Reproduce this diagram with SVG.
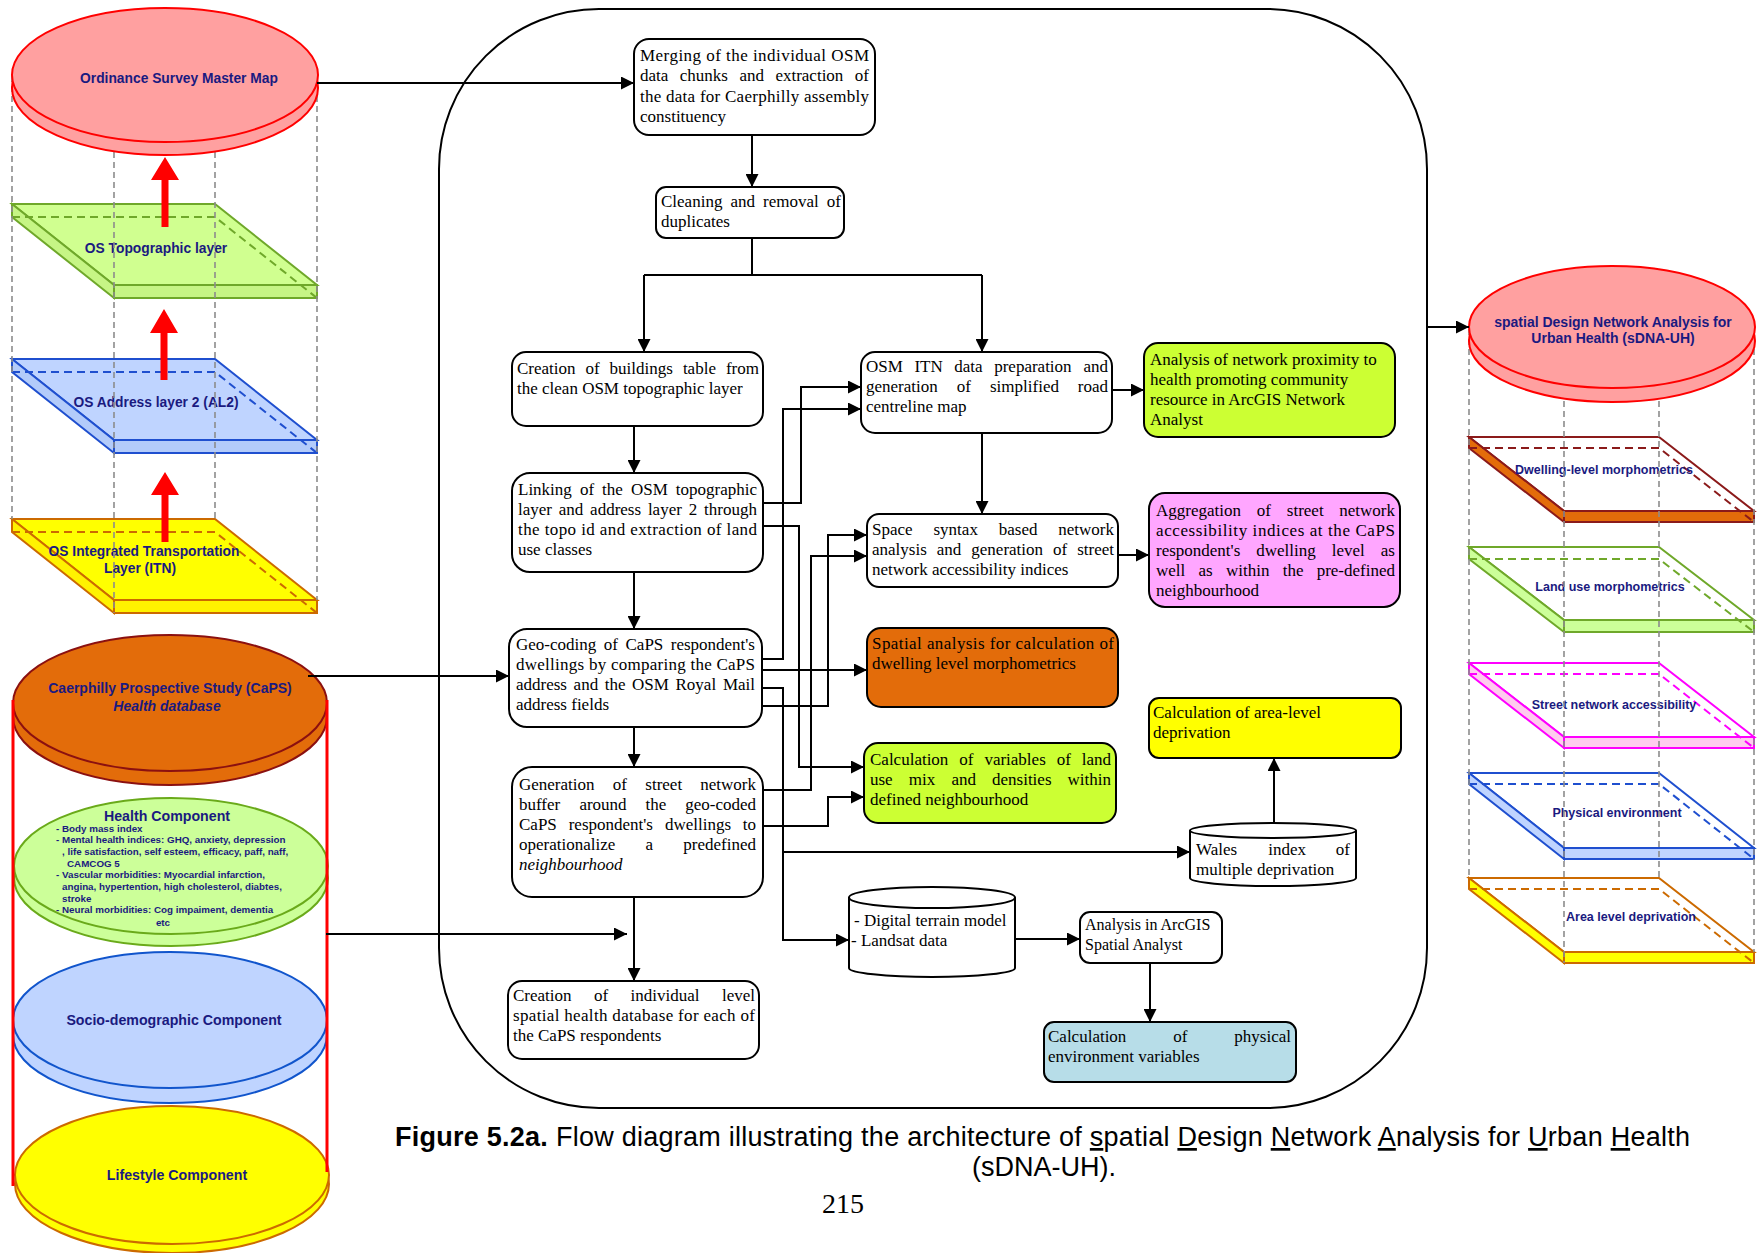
<svg xmlns="http://www.w3.org/2000/svg" width="1760" height="1253" viewBox="0 0 1760 1253">
<defs>
<marker id="ah" markerWidth="13" markerHeight="13" refX="13" refY="6.5" orient="auto" markerUnits="userSpaceOnUse"><path d="M0,0 L13,6.5 L0,13 z" fill="#000"/></marker>
<style>
.box{fill:#fff;stroke:#000;stroke-width:2}
.t{font-family:"Liberation Serif","Times New Roman",serif;font-size:17px;fill:#000}
.lbl{font-family:"Liberation Sans",Arial,sans-serif;font-weight:bold;fill:#1A1A80;font-size:13.8px}
.sm{font-family:"Liberation Sans",Arial,sans-serif;font-weight:bold;fill:#1A1A80;font-size:9.8px}
.rl{font-family:"Liberation Sans",Arial,sans-serif;font-weight:bold;fill:#1A1A80;font-size:12.5px}
.conn{fill:none;stroke:#000;stroke-width:2}
.arr{marker-end:url(#ah)}
.gd{stroke:#8c8c8c;stroke-width:1.6;stroke-dasharray:6 4;fill:none}
.cap{font-family:"Liberation Sans",Arial,sans-serif;font-size:27px;fill:#000}
</style>
</defs>
<rect width="1760" height="1253" fill="#fff"/>

<!-- LEFT STACK -->
<g id="n-topo">
<polygon points="12,204 215,204 317,285 114,285" fill="#D0FF90" stroke="#6FA82A" stroke-width="2"/>
<polygon points="12,204 114,285 114,298 12,217" fill="#C6F585" stroke="#6FA82A" stroke-width="2"/>
<polygon points="114,285 317,285 317,298 114,298" fill="#C6F585" stroke="#6FA82A" stroke-width="2"/>
<polyline points="12,217 215,217 317,298" fill="none" stroke="#6FA82A" stroke-width="2" stroke-dasharray="8 5"/>
<text class="lbl" x="156" y="253" text-anchor="middle">OS Topographic layer</text>
</g>
<g id="n-al2">
<polygon points="12,359 215,359 317,440 114,440" fill="#BFD4FF" stroke="#1F4FCF" stroke-width="2"/>
<polygon points="12,359 114,440 114,453 12,372" fill="#B3CBFA" stroke="#1F4FCF" stroke-width="2"/>
<polygon points="114,440 317,440 317,453 114,453" fill="#B3CBFA" stroke="#1F4FCF" stroke-width="2"/>
<polyline points="12,372 215,372 317,453" fill="none" stroke="#1F4FCF" stroke-width="2" stroke-dasharray="8 5"/>
<text class="lbl" x="156" y="407" text-anchor="middle">OS Address layer 2 (AL2)</text>
</g>
<g id="n-itn">
<polygon points="12,519 215,519 317,600 114,600" fill="#FFFF00" stroke="#CC6A00" stroke-width="2"/>
<polygon points="12,519 114,600 114,613 12,532" fill="#FFF200" stroke="#CC6A00" stroke-width="2"/>
<polygon points="114,600 317,600 317,613 114,613" fill="#FFF200" stroke="#CC6A00" stroke-width="2"/>
<polyline points="12,532 215,532 317,613" fill="none" stroke="#CC6A00" stroke-width="2" stroke-dasharray="8 5"/>
<text class="lbl" x="144" y="556" text-anchor="middle">OS Integrated Transportation</text>
<text class="lbl" x="140" y="573" text-anchor="middle">Layer (ITN)</text>
</g>
<g id="left-guides">
<line class="gd" x1="12" y1="76" x2="12" y2="519"/>
<line class="gd" x1="114" y1="152" x2="114" y2="613"/>
<line class="gd" x1="215" y1="152" x2="215" y2="519"/>
<line class="gd" x1="317" y1="76" x2="317" y2="600"/>
</g>
<g id="n-osmm">
<ellipse cx="165" cy="88" rx="153" ry="67" fill="#FFA0A0" stroke="#FF0000" stroke-width="2"/>
<ellipse cx="165" cy="75" rx="153" ry="67" fill="#FFA0A0" stroke="#FF0000" stroke-width="2"/>
<text class="lbl" x="179" y="83" text-anchor="middle">Ordinance Survey Master Map</text>
</g>
<g id="red-arrows" fill="#FF0000">
<polygon points="165,157 179,180 168.5,180 168.5,227 161.5,227 161.5,180 151,180"/>
<polygon points="164,309 178,333 167.5,333 167.5,380 160.5,380 160.5,333 150,333"/>
<polygon points="165,472 179,495 168.5,495 168.5,542 161.5,542 161.5,495 151,495"/>
</g>

<g id="n-caps">
<ellipse cx="170" cy="717" rx="157" ry="68" fill="#E36C0A" stroke="#8B1010" stroke-width="2"/>
<ellipse cx="170" cy="703" rx="157" ry="68" fill="#E36C0A" stroke="#8B1010" stroke-width="2"/>
<text class="lbl" x="170" y="693" text-anchor="middle" style="font-size:14px">Caerphilly Prospective Study (CaPS)</text>
<text class="lbl" x="167" y="711" text-anchor="middle" style="font-size:14px;font-style:italic">Health database</text>
</g>
<g id="n-health">
<ellipse cx="171" cy="878" rx="157" ry="68" fill="#CCFF99" stroke="#6AAA1A" stroke-width="2"/>
<ellipse cx="171" cy="866" rx="157" ry="68" fill="#CCFF99" stroke="#6AAA1A" stroke-width="2"/>
<text class="lbl" x="167" y="821" text-anchor="middle" style="font-size:14.2px">Health Component</text>
<text class="sm" x="56" y="831.5">- Body mass index</text>
<text class="sm" x="56" y="843.3">- Mental health indices: GHQ, anxiety, depression</text>
<text class="sm" x="62" y="855">, life satisfaction, self esteem, efficacy, paff, naff,</text>
<text class="sm" x="67" y="866.7">CAMCOG 5</text>
<text class="sm" x="56" y="878.3">- Vascular morbidities: Myocardial infarction,</text>
<text class="sm" x="62" y="890">angina, hypertention, high cholesterol, diabtes,</text>
<text class="sm" x="62" y="901.7">stroke</text>
<text class="sm" x="56" y="913.3">- Neural morbidities: Cog impaiment, dementia</text>
<text class="sm" x="163" y="925.6" text-anchor="middle">etc</text>
</g>
<g id="n-socio">
<ellipse cx="170" cy="1035" rx="157" ry="68" fill="#BFD4FF" stroke="#1155CC" stroke-width="2"/>
<ellipse cx="170" cy="1020" rx="157" ry="68" fill="#BFD4FF" stroke="#1155CC" stroke-width="2"/>
<text class="lbl" x="174" y="1025" text-anchor="middle" style="font-size:14.2px">Socio-demographic Component</text>
</g>
<g id="n-lifestyle">
<ellipse cx="172" cy="1184" rx="157" ry="69" fill="#FFFF00" stroke="#CC6A00" stroke-width="2"/>
<ellipse cx="172" cy="1175" rx="157" ry="69" fill="#FFFF00" stroke="#CC6A00" stroke-width="2"/>
<text class="lbl" x="177" y="1180" text-anchor="middle" style="font-size:14.2px">Lifestyle Component</text>
</g>
<g id="caps-frame" stroke="#FF0000" stroke-width="3">
<line x1="13" y1="700" x2="13" y2="1186"/>
<line x1="327" y1="700" x2="327" y2="1172"/>
</g>

<!-- CENTRAL FRAME -->
<g id="n-frame">
<rect x="439" y="9" width="988" height="1099" rx="160" ry="160" fill="none" stroke="#000" stroke-width="2"/>
</g>

<g id="n-merge">
<rect class="box" x="634" y="39" width="241" height="96" rx="15"/>
<text class="t" x="640" y="61" textLength="229" lengthAdjust="spacing">Merging of the individual OSM</text>
<text class="t" y="81.3"><tspan x="640">data</tspan><tspan x="679.8">chunks</tspan><tspan x="739.4">and</tspan><tspan x="775.4">extraction</tspan><tspan x="869" text-anchor="end">of</tspan></text>
<text class="t" x="640" y="101.6" textLength="229" lengthAdjust="spacing">the data for Caerphilly assembly</text>
<text class="t" x="640" y="121.9">constituency</text>
</g>
<g id="n-clean">
<rect class="box" x="656" y="187" width="188" height="51" rx="10"/>
<text class="t" y="207"><tspan x="661">Cleaning</tspan><tspan x="730.5">and</tspan><tspan x="763.1">removal</tspan><tspan x="841" text-anchor="end">of</tspan></text>
<text class="t" x="661" y="227">duplicates</text>
</g>
<g id="n-bldg">
<rect class="box" x="512" y="352" width="251" height="74" rx="14"/>
<text class="t" y="373.5"><tspan x="517">Creation</tspan><tspan x="585.5">of</tspan><tspan x="609.6">buildings</tspan><tspan x="682.9">table</tspan><tspan x="759" text-anchor="end">from</tspan></text>
<text class="t" x="517" y="393.7">the clean OSM topographic layer</text>
</g>
<g id="n-link">
<rect class="box" x="512" y="473" width="251" height="99" rx="18"/>
<text class="t" y="495"><tspan x="518">Linking</tspan><tspan x="579.9">of</tspan><tspan x="602.1">the</tspan><tspan x="631">OSM</tspan><tspan x="757" text-anchor="end">topographic</tspan></text>
<text class="t" y="515"><tspan x="518">layer</tspan><tspan x="558.8">and</tspan><tspan x="590.1">address</tspan><tspan x="647.9">layer</tspan><tspan x="688.7">2</tspan><tspan x="757" text-anchor="end">through</tspan></text>
<text class="t" x="518" y="535" textLength="239" lengthAdjust="spacing">the topo id and extraction of land</text>
<text class="t" x="518" y="555">use classes</text>
</g>
<g id="n-geo">
<rect class="box" x="509" y="629" width="253" height="98" rx="18"/>
<text class="t" y="650"><tspan x="516">Geo-coding</tspan><tspan x="603.8">of</tspan><tspan x="625.5">CaPS</tspan><tspan x="755" text-anchor="end">respondent's</tspan></text>
<text class="t" x="516" y="670" textLength="239" lengthAdjust="spacing">dwellings by comparing the CaPS</text>
<text class="t" y="690"><tspan x="516">address</tspan><tspan x="573.6">and</tspan><tspan x="604.7">the</tspan><tspan x="632.1">OSM</tspan><tspan x="675.5">Royal</tspan><tspan x="755" text-anchor="end">Mail</tspan></text>
<text class="t" x="516" y="710">address fields</text>
</g>
<g id="n-gen">
<rect class="box" x="512" y="767" width="251" height="130" rx="20"/>
<text class="t" y="790"><tspan x="519">Generation</tspan><tspan x="612.8">of</tspan><tspan x="645.3">street</tspan><tspan x="756" text-anchor="end">network</tspan></text>
<text class="t" y="810"><tspan x="519">buffer</tspan><tspan x="579.4">around</tspan><tspan x="645.5">the</tspan><tspan x="756" text-anchor="end">geo-coded</tspan></text>
<text class="t" y="830"><tspan x="519">CaPS</tspan><tspan x="568.7">respondent's</tspan><tspan x="664.9">dwellings</tspan><tspan x="756" text-anchor="end">to</tspan></text>
<text class="t" y="850"><tspan x="519">operationalize</tspan><tspan x="645.5">a</tspan><tspan x="756" text-anchor="end">predefined</tspan></text>
<text class="t" x="519" y="870" font-style="italic">neighbourhood</text>
</g>
<g id="n-indiv">
<rect class="box" x="508" y="981" width="251" height="78" rx="14"/>
<text class="t" y="1001"><tspan x="513">Creation</tspan><tspan x="593.9">of</tspan><tspan x="630.5">individual</tspan><tspan x="755" text-anchor="end">level</tspan></text>
<text class="t" x="513" y="1021" textLength="242" lengthAdjust="spacing">spatial health database for each of</text>
<text class="t" x="513" y="1041">the CaPS respondents</text>
</g>
<g id="n-itnprep">
<rect class="box" x="861" y="352" width="251" height="81" rx="14"/>
<text class="t" y="372"><tspan x="866">OSM</tspan><tspan x="914.4">ITN</tspan><tspan x="954.3">data</tspan><tspan x="994.2">preparation</tspan><tspan x="1108" text-anchor="end">and</tspan></text>
<text class="t" y="392"><tspan x="866">generation</tspan><tspan x="956.8">of</tspan><tspan x="990">simplified</tspan><tspan x="1108" text-anchor="end">road</tspan></text>
<text class="t" x="866" y="412">centreline map</text>
</g>
<g id="n-proximity">
<rect class="box" x="1144" y="343" width="251" height="94" rx="14" style="fill:#CCFF33"/>
<text class="t" x="1150" y="365">Analysis of network proximity to</text>
<text class="t" x="1150" y="385">health promoting community</text>
<text class="t" x="1150" y="405">resource in ArcGIS Network</text>
<text class="t" x="1150" y="425">Analyst</text>
</g>
<g id="n-syntax">
<rect class="box" x="867" y="514" width="251" height="73" rx="12"/>
<text class="t" y="535"><tspan x="872">Space</tspan><tspan x="933.5">syntax</tspan><tspan x="998.8">based</tspan><tspan x="1114" text-anchor="end">network</tspan></text>
<text class="t" y="555"><tspan x="872">analysis</tspan><tspan x="936.8">and</tspan><tspan x="971.3">generation</tspan><tspan x="1053.1">of</tspan><tspan x="1114" text-anchor="end">street</tspan></text>
<text class="t" x="872" y="575">network accessibility indices</text>
</g>
<g id="n-aggreg">
<rect class="box" x="1149" y="493" width="251" height="114" rx="16" style="fill:#FFA6FF"/>
<text class="t" y="516"><tspan x="1156">Aggregation</tspan><tspan x="1256.8">of</tspan><tspan x="1286.8">street</tspan><tspan x="1395" text-anchor="end">network</tspan></text>
<text class="t" x="1156" y="536" textLength="239" lengthAdjust="spacing">accessibility indices at the CaPS</text>
<text class="t" y="556"><tspan x="1156">respondent's</tspan><tspan x="1256.3">dwelling</tspan><tspan x="1331.8">level</tspan><tspan x="1395" text-anchor="end">as</tspan></text>
<text class="t" y="576"><tspan x="1156">well</tspan><tspan x="1198.5">as</tspan><tspan x="1226">within</tspan><tspan x="1282.7">the</tspan><tspan x="1395" text-anchor="end">pre-defined</tspan></text>
<text class="t" x="1156" y="596">neighbourhood</text>
</g>
<g id="n-dwell">
<rect class="box" x="867" y="628" width="251" height="79" rx="14" style="fill:#E36C0A"/>
<text class="t" x="872" y="649" textLength="242" lengthAdjust="spacing">Spatial analysis for calculation of</text>
<text class="t" x="872" y="669">dwelling level morphometrics</text>
</g>
<g id="n-landuse">
<rect class="box" x="864" y="743" width="252" height="80" rx="14" style="fill:#CCFF33"/>
<text class="t" y="765"><tspan x="870">Calculation</tspan><tspan x="959.3">of</tspan><tspan x="984.4">variables</tspan><tspan x="1056.7">of</tspan><tspan x="1111" text-anchor="end">land</tspan></text>
<text class="t" y="785"><tspan x="870">use</tspan><tspan x="908.8">mix</tspan><tspan x="951.4">and</tspan><tspan x="992">densities</tspan><tspan x="1111" text-anchor="end">within</tspan></text>
<text class="t" x="870" y="805">defined neighbourhood</text>
</g>
<g id="n-deprivation">
<rect class="box" x="1149" y="698" width="252" height="60" rx="10" style="fill:#FFFF00"/>
<text class="t" x="1153" y="718">Calculation of area-level</text>
<text class="t" x="1153" y="738">deprivation</text>
</g>
<g id="n-wimd">
<path class="box" d="M1190,830.5 V878 A83,8 0 0 0 1356,878 V830.5 A83,7.5 0 0 0 1190,830.5 Z"/>
<path d="M1190,830.5 A83,7.5 0 0 0 1356,830.5" fill="none" stroke="#000" stroke-width="2"/>
<text class="t" y="855"><tspan x="1196">Wales</tspan><tspan x="1268.3">index</tspan><tspan x="1350" text-anchor="end">of</tspan></text>
<text class="t" x="1196" y="875">multiple deprivation</text>
</g>
<g id="n-dtm">
<path class="box" d="M849,897.5 V968 A83,9 0 0 0 1015,968 V897.5 A83,10.5 0 0 0 849,897.5 Z"/>
<path d="M849,897.5 A83,10.5 0 0 0 1015,897.5" fill="none" stroke="#000" stroke-width="2"/>
<text class="t" x="854" y="926">- Digital terrain model</text>
<text class="t" x="851" y="946">- Landsat data</text>
</g>
<g id="n-arcgis">
<rect class="box" x="1080" y="912" width="142" height="51" rx="10"/>
<text class="t" x="1085" y="930" style="font-size:16px">Analysis in ArcGIS</text>
<text class="t" x="1085" y="950" style="font-size:16px">Spatial Analyst</text>
</g>
<g id="n-physical">
<rect class="box" x="1044" y="1022" width="252" height="60" rx="10" style="fill:#B7DDE8"/>
<text class="t" y="1042"><tspan x="1048">Calculation</tspan><tspan x="1173.3">of</tspan><tspan x="1291" text-anchor="end">physical</tspan></text>
<text class="t" x="1048" y="1062">environment variables</text>
</g>

<!-- RIGHT STACK -->
<g id="n-dwelling-layer">
<polygon points="1469,437 1659,437 1754,511 1564,511" fill="#fff" stroke="#8B1A1A" stroke-width="2"/>
<polygon points="1469,437 1564,511 1564,522 1469,448" fill="#E36C0A" stroke="#8B1A1A" stroke-width="2"/>
<polygon points="1564,511 1754,511 1754,522 1564,522" fill="#E36C0A" stroke="#8B1A1A" stroke-width="2"/>
<polyline points="1469,448 1659,448 1754,522" fill="none" stroke="#8B1A1A" stroke-width="2" stroke-dasharray="8 5"/>
<text class="rl" x="1604" y="474" text-anchor="middle">Dwelling-level morphometrics</text>
</g>
<g id="n-landuse-layer">
<polygon points="1469,547 1659,547 1754,620 1564,620" fill="#fff" stroke="#6FA82A" stroke-width="2"/>
<polygon points="1469,547 1564,620 1564,632 1469,559" fill="#CCFF99" stroke="#6FA82A" stroke-width="2"/>
<polygon points="1564,620 1754,620 1754,632 1564,632" fill="#CCFF99" stroke="#6FA82A" stroke-width="2"/>
<polyline points="1469,559 1659,559 1754,632" fill="none" stroke="#6FA82A" stroke-width="2" stroke-dasharray="8 5"/>
<text class="rl" x="1610" y="591" text-anchor="middle">Land use morphometrics</text>
</g>
<g id="n-street-layer">
<polygon points="1469,663 1659,663 1754,737 1564,737" fill="#fff" stroke="#FF00FF" stroke-width="2"/>
<polygon points="1469,663 1564,737 1564,748 1469,674" fill="#FFCCEE" stroke="#FF00FF" stroke-width="2"/>
<polygon points="1564,737 1754,737 1754,748 1564,748" fill="#FFCCEE" stroke="#FF00FF" stroke-width="2"/>
<polyline points="1469,674 1659,674 1754,748" fill="none" stroke="#FF00FF" stroke-width="2" stroke-dasharray="8 5"/>
<text class="rl" x="1614" y="709" text-anchor="middle">Street network accessibility</text>
</g>
<g id="n-physical-layer">
<polygon points="1469,773 1659,773 1754,848 1564,848" fill="#fff" stroke="#1F4FCF" stroke-width="2"/>
<polygon points="1469,773 1564,848 1564,859 1469,784" fill="#BFD4FF" stroke="#1F4FCF" stroke-width="2"/>
<polygon points="1564,848 1754,848 1754,859 1564,859" fill="#BFD4FF" stroke="#1F4FCF" stroke-width="2"/>
<polyline points="1469,784 1659,784 1754,859" fill="none" stroke="#1F4FCF" stroke-width="2" stroke-dasharray="8 5"/>
<text class="rl" x="1617" y="817" text-anchor="middle">Physical environment</text>
</g>
<g id="n-area-layer">
<polygon points="1469,878 1659,878 1754,952 1564,952" fill="#fff" stroke="#CC6A00" stroke-width="2"/>
<polygon points="1469,878 1564,952 1564,963 1469,889" fill="#FFFF00" stroke="#CC6A00" stroke-width="2"/>
<polygon points="1564,952 1754,952 1754,963 1564,963" fill="#FFFF00" stroke="#CC6A00" stroke-width="2"/>
<polyline points="1469,889 1659,889 1754,963" fill="none" stroke="#CC6A00" stroke-width="2" stroke-dasharray="8 5"/>
<text class="rl" x="1631" y="921" text-anchor="middle">Area level deprivation</text>
</g>
<g id="right-guides">
<line class="gd" x1="1469" y1="329" x2="1469" y2="878"/>
<line class="gd" x1="1564" y1="401" x2="1564" y2="963"/>
<line class="gd" x1="1659" y1="401" x2="1659" y2="878"/>
<line class="gd" x1="1754" y1="329" x2="1754" y2="952"/>
</g>
<g id="n-sdna">
<ellipse cx="1612" cy="341" rx="143" ry="61" fill="#FFA0A0" stroke="#FF0000" stroke-width="2"/>
<ellipse cx="1612" cy="327" rx="143" ry="61" fill="#FFA0A0" stroke="#FF0000" stroke-width="2"/>
<text class="lbl" x="1613" y="327" text-anchor="middle" style="font-size:14px">spatial Design Network Analysis for</text>
<text class="lbl" x="1613" y="343" text-anchor="middle" style="font-size:14px">Urban Health (sDNA-UH)</text>
</g>

<!-- CONNECTORS -->
<g id="connectors" class="conn">
<path class="arr" d="M317,83 H634"/>
<path class="arr" d="M752,135 V187"/>
<path d="M752,238 V275 M644,275 H982"/>
<path class="arr" d="M644,275 V352"/>
<path class="arr" d="M982,275 V352"/>
<path class="arr" d="M634,426 V473"/>
<path class="arr" d="M634,572 V629"/>
<path class="arr" d="M634,727 V767"/>
<path class="arr" d="M634,897 V981"/>
<path class="arr" d="M326,934 H627"/>
<path class="arr" d="M308,676 H509"/>
<path class="arr" d="M763,503 H801 V387 H861"/>
<path class="arr" d="M762,659 H783 V409 H861"/>
<path class="arr" d="M762,670 H867"/>
<path class="arr" d="M762,688 H783 V940 H849"/>
<path class="arr" d="M783,852 H1190"/>
<path class="arr" d="M762,706 H828 V535 H867"/>
<path class="arr" d="M763,790 H811 V556 H867"/>
<path class="arr" d="M763,826 H828 V797 H864"/>
<path class="arr" d="M763,526 H799 V767 H864"/>
<path class="arr" d="M982,433 V514"/>
<path class="arr" d="M1112,390 H1144"/>
<path class="arr" d="M1118,555 H1149"/>
<path class="arr" d="M1274,823 V758"/>
<path class="arr" d="M1015,939 H1080"/>
<path class="arr" d="M1150,963 V1022"/>
<path class="arr" d="M1427,327 H1469"/>
</g>

<!-- CAPTION -->
<g id="caption">
<text class="cap" x="395" y="1146" textLength="1295" lengthAdjust="spacing"><tspan font-weight="bold">Figure 5.2a.</tspan> Flow diagram illustrating the architecture of <tspan text-decoration="underline">s</tspan>patial <tspan text-decoration="underline">D</tspan>esign <tspan text-decoration="underline">N</tspan>etwork <tspan text-decoration="underline">A</tspan>nalysis for <tspan text-decoration="underline">U</tspan>rban <tspan text-decoration="underline">H</tspan>ealth</text>
<text class="cap" x="1044" y="1176" text-anchor="middle">(sDNA-UH).</text>
<text x="843" y="1213" text-anchor="middle" style="font-family:'Liberation Serif','Times New Roman',serif;font-size:28px">215</text>
</g>
</svg>
